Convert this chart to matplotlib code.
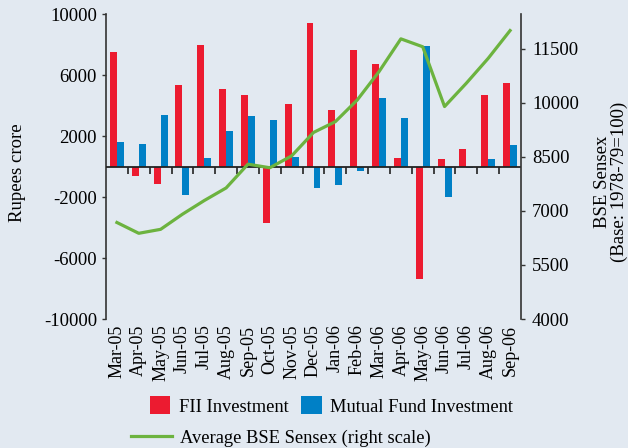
import matplotlib
matplotlib.use("Agg")
import matplotlib.pyplot as plt
from matplotlib.patches import Patch
from matplotlib.lines import Line2D

plt.rcParams['font.family'] = ['Liberation Serif', 'DejaVu Serif']

months = ["Mar-05", "Apr-05", "May-05", "Jun-05", "Jul-05", "Aug-05", "Sep-05",
          "Oct-05", "Nov-05", "Dec-05", "Jan-06", "Feb-06", "Mar-06", "Apr-06",
          "May-06", "Jun-06", "Jul-06", "Aug-06", "Sep-06"]

# Rupees crore
fii = [7500, -650, -1170, 5370, 7970, 5080, 4690, -3700, 4080, 9390,
       3700, 7620, 6720, 560, -7350, 510, 1170, 4670, 5450]
mf = [1590, 1500, 3380, -1850, 560, 2330, 3290, 3050, 620, -1390,
      -1190, -270, 4510, 3160, 7920, -2000, -120, 470, 1390]

# average BSE Sensex (right scale)
sensex = [6680, 6380, 6490, 6910, 7290, 7640, 8300, 8200, 8530, 9180,
          9480, 10080, 10870, 11780, 11560, 9900, 10550, 11240, 12010]

left_ticks = [-10000, -6000, -2000, 2000, 6000, 10000]
right_ticks = [4000, 5500, 7000, 8500, 10000, 11500]

bg = '#e2e9f1'
red = '#ec1b30'
blue = '#0080c6'
green = '#6cb33f'

fig = plt.figure(figsize=(6.28, 4.48), dpi=100, facecolor=bg)
ax = fig.add_axes([106 / 628, 1 - 319 / 448, 415 / 628, 305 / 448])
ax.set_facecolor(bg)

x = list(range(len(months)))
w = 0.32
ax.bar([i - w / 2 for i in x], fii, width=w, color=red, linewidth=0, zorder=2)
ax.bar([i + w / 2 for i in x], mf, width=w, color=blue, linewidth=0, zorder=2)

ax.set_xlim(-0.5, len(months) - 0.5)
ax.set_ylim(-10000, 10000)
ax.axhline(0, color='#222222', linewidth=1.3, zorder=3)
# little ticks under the zero line between the months
ax.vlines([i + 0.5 for i in x[:-1]], -460, 0, color='#222222', linewidth=1.2, zorder=3)

ax.set_xticks(x)
ax.set_xticklabels(months, rotation=90, fontsize=13)
ax.tick_params(axis='x', length=0, pad=4)
ax.set_yticks(left_ticks)
ax.set_yticklabels([str(v) for v in left_ticks], fontsize=13.5)
ax.tick_params(axis='y', direction='out', length=3, width=1, pad=3.5, color='#333333')
ax.set_ylabel("Rupees crore", fontsize=13.5)
ax.yaxis.set_label_coords(-0.193, 0.479)

for s in ['top', 'right', 'bottom']:
    ax.spines[s].set_visible(False)
ax.spines['left'].set_color('#333333')
ax.spines['left'].set_linewidth(1.2)

ax2 = ax.twinx()
ax2.plot(x, sensex, color=green, linewidth=2.3, zorder=4, solid_joinstyle='round')
ax2.set_ylim(4000, 12470)
ax2.set_yticks(right_ticks)
ax2.set_yticklabels([str(v) for v in right_ticks], fontsize=13.5)
ax2.tick_params(axis='y', direction='out', length=3, width=1, pad=5, color='#333333')
ax2.set_ylabel("BSE Sensex\n(Base: 1978-79=100)", fontsize=13.5, linespacing=0.95)
ax2.yaxis.set_label_coords(1.176, 0.449)
for s in ['top', 'left', 'bottom']:
    ax2.spines[s].set_visible(False)
ax2.spines['right'].set_color('#333333')
ax2.spines['right'].set_linewidth(1.2)

h1 = [Patch(facecolor=red, edgecolor='none', label="FII Investment"),
      Patch(facecolor=blue, edgecolor='none', label="Mutual Fund Investment")]
leg1 = fig.legend(handles=h1, loc='center left', bbox_to_anchor=(150 / 628, 1 - 406 / 448),
                  ncol=2, frameon=False, fontsize=13.3, handlelength=1.1, handleheight=1.1,
                  handletextpad=0.45, columnspacing=0.7, borderpad=0, borderaxespad=0)
h2 = [Line2D([0], [0], color=green, linewidth=2.3, label="Average BSE Sensex (right scale)")]
leg2 = fig.legend(handles=h2, loc='center left', bbox_to_anchor=(131 / 628, 1 - 438 / 448),
                  frameon=False, fontsize=13.3, handlelength=2.2,
                  handletextpad=0.45, borderpad=0, borderaxespad=0)

fig.savefig("out.png", dpi=100, facecolor=bg)
